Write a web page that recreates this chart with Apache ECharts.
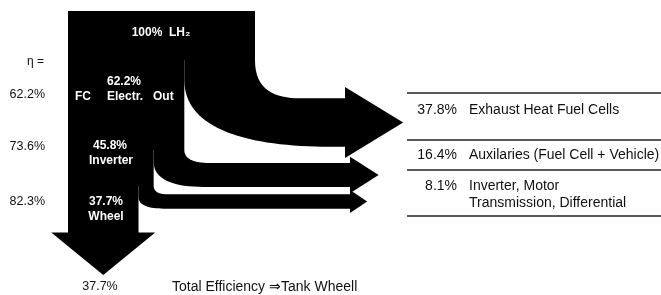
<!DOCTYPE html>
<html>
<head>
<meta charset="utf-8">
<script src="https://cdn.jsdelivr.net/npm/echarts@6/dist/echarts.min.js"></script>
<style>
  html, body { margin: 0; padding: 0; background: #fff; }
  #main { width: 661px; height: 295px; }
</style>
</head>
<body>
<div id="main"></div>
<script>
"use strict";

// 数据
const stageNames = ["LH₂", "FC", "Inverter", "Wheel"];
const stageShare = [100, 62.2, 45.8, 37.7];      // 剩余能量 %
const stageEta = [62.2, 73.6, 82.3];              // 每一级效率 %
const lossShare = [37.8, 16.4, 8.1];              // 损失 %
const lossNames = [
  "Exhaust Heat Fuel Cells",
  "Auxilaries (Fuel Cell + Vehicle)",
  "Inverter, Motor\nTransmission, Differential",
];
const totalEff = 37.7;

// 布局（像素坐标系，通过隐藏坐标轴换算）
const X0 = 68;          // 主干左边
const UNIT = 1.87;      // 每 % 的宽度
const stageTop = [11, 60, 150, 186];
const stageBottom = [60, 150, 186, 233];
const branch = [
  { innerY: 80, cy: 122.5, headX: 345, dxO: 45, dxI: 146 },
  { innerY: 162, cy: 175, headX: 350, dxO: 28, dxI: 50 },
  { innerY: 197, cy: 201.5, headX: 350, dxO: 15, dxI: 25 },
];
const FONT = "'Liberation Sans', Arial, sans-serif";

const myChart = echarts.init(document.getElementById("main"));

function path(api, pts) {
  // pts: ['M', x, y] / ['L', x, y] / ['C', x1, y1, x2, y2, x, y]
  let d = "";
  pts.forEach((seg) => {
    d += seg[0];
    for (let k = 1; k < seg.length; k += 2) {
      const c = api.coord([seg[k], seg[k + 1]]);
      d += " " + c[0].toFixed(2) + " " + c[1].toFixed(2);
    }
    d += " ";
  });
  return d + "Z";
}

// 主干
function renderTrunk(params, api) {
  const i = params.dataIndex;
  const x1 = X0 + api.value(1) * UNIT;
  const segs = [
    ["M", X0, stageTop[i]],
    ["L", x1, stageTop[i]],
    ["L", x1, stageBottom[i]],
    ["L", X0, stageBottom[i]],
  ];
  const children = [{ type: "path", shape: { pathData: path(api, segs) }, style: { fill: "#000" } }];
  if (i === stageShare.length - 1) {
    const xc = (X0 + x1) / 2;
    const head = [
      ["M", xc - 52, stageBottom[i] - 0.5],
      ["L", xc + 52, stageBottom[i] - 0.5],
      ["L", xc, 275],
    ];
    children.push({ type: "path", shape: { pathData: path(api, head) }, style: { fill: "#000" } });
  }
  return { type: "group", children };
}

// 损失分支
function renderLoss(params, api) {
  const i = params.dataIndex;
  const b = branch[i];
  const v = api.value(1);
  const xOut = X0 + stageShare[i] * UNIT;
  const xIn = X0 + stageShare[i + 1] * UNIT;
  const outerY = stageBottom[i];
  const w = 5 + v * 1.15;
  const top = b.cy - w / 2;
  const bot = b.cy + w / 2;
  const hh = w * 0.7 + 1.5;
  const hl = w * 1.2;
  const segs = [
    ["M", xIn, outerY],
    ["L", xOut, outerY],
    ["C", xOut, outerY + 0.8 * (top - outerY), xOut + 0.45 * b.dxO, top, xOut + b.dxO, top],
    ["L", b.headX, top],
    ["L", b.headX, b.cy - hh],
    ["L", b.headX + hl, b.cy],
    ["L", b.headX, b.cy + hh],
    ["L", b.headX, bot],
    ["L", xIn + b.dxI, bot],
    ["C", xIn + 0.45 * b.dxI, bot, xIn, b.innerY + 0.75 * (bot - b.innerY), xIn, b.innerY],
  ];
  return { type: "path", shape: { pathData: path(api, segs) }, style: { fill: "#000" } };
}

function txt(x, y, text, opt) {
  opt = opt || {};
  return {
    type: "text",
    x: x,
    y: y,
    z: 100,
    silent: true,
    style: {
      text: text,
      fill: opt.fill || "#111",
      font: (opt.bold ? "bold " : "") + (opt.size || 12) + "px " + FONT,
      textAlign: opt.align || "left",
      textVerticalAlign: "middle",
      lineHeight: opt.lineHeight || 17,
    },
  };
}

const pct = (v) => v + "%";
const white = { fill: "#fff", bold: true, size: 12 };

const graphics = [
  // 主干内文字
  txt(161, 33, pct(stageShare[0]) + "  " + stageNames[0], Object.assign({ align: "center" }, white)),
  txt(75, 97, stageNames[1], white),
  txt(107, 82, pct(stageShare[1]), white),
  txt(107, 97, "Electr.", white),
  txt(153, 97, "Out", white),
  txt(110, 146, pct(stageShare[2]), Object.assign({ align: "center" }, white)),
  txt(111, 161, stageNames[2], Object.assign({ align: "center" }, white)),
  txt(106, 202, pct(stageShare[3]), Object.assign({ align: "center" }, white)),
  txt(106, 217, stageNames[3], Object.assign({ align: "center" }, white)),
  // 左侧效率
  txt(44, 62, "η =", { align: "right", size: 12 }),
  // 底部
  txt(100, 287, pct(totalEff), { align: "center", size: 12.5 }),
  txt(172, 287, "Total Efficiency ⇒Tank Wheell", { size: 14 }),
];
const etaY = [95, 147, 202];
stageEta.forEach((e, i) => graphics.push(txt(45, etaY[i], pct(e), { align: "right", size: 12.5 })));

// 右侧表格
const lineY = [93, 140, 170, 216];
lineY.forEach((y) => {
  graphics.push({
    type: "line",
    silent: true,
    shape: { x1: 407, y1: y, x2: 661, y2: y },
    style: { stroke: "#222", lineWidth: 1.5 },
  });
});
const rowY = [110, 155, 186];
lossShare.forEach((v, i) => {
  graphics.push(txt(457, rowY[i], pct(v), { align: "right", size: 14 }));
  graphics.push(txt(469, rowY[i] + (i === 2 ? 8.5 : 0), lossNames[i], { size: 14 }));
});

const option = {
  animation: false,
  backgroundColor: "#fff",
  grid: { left: 0, right: 0, top: 0, bottom: 0 },
  xAxis: { type: "value", min: 0, max: 661, show: false },
  yAxis: { type: "value", min: 0, max: 295, inverse: true, show: false },
  series: [
    {
      name: "trunk",
      type: "custom",
      silent: true,
      renderItem: renderTrunk,
      data: stageShare.map((v, i) => [i, v]),
    },
    {
      name: "loss",
      type: "custom",
      silent: true,
      renderItem: renderLoss,
      data: lossShare.map((v, i) => [i, v]),
    },
  ],
  graphic: graphics,
};

myChart.setOption(option);
</script>
</body>
</html>
